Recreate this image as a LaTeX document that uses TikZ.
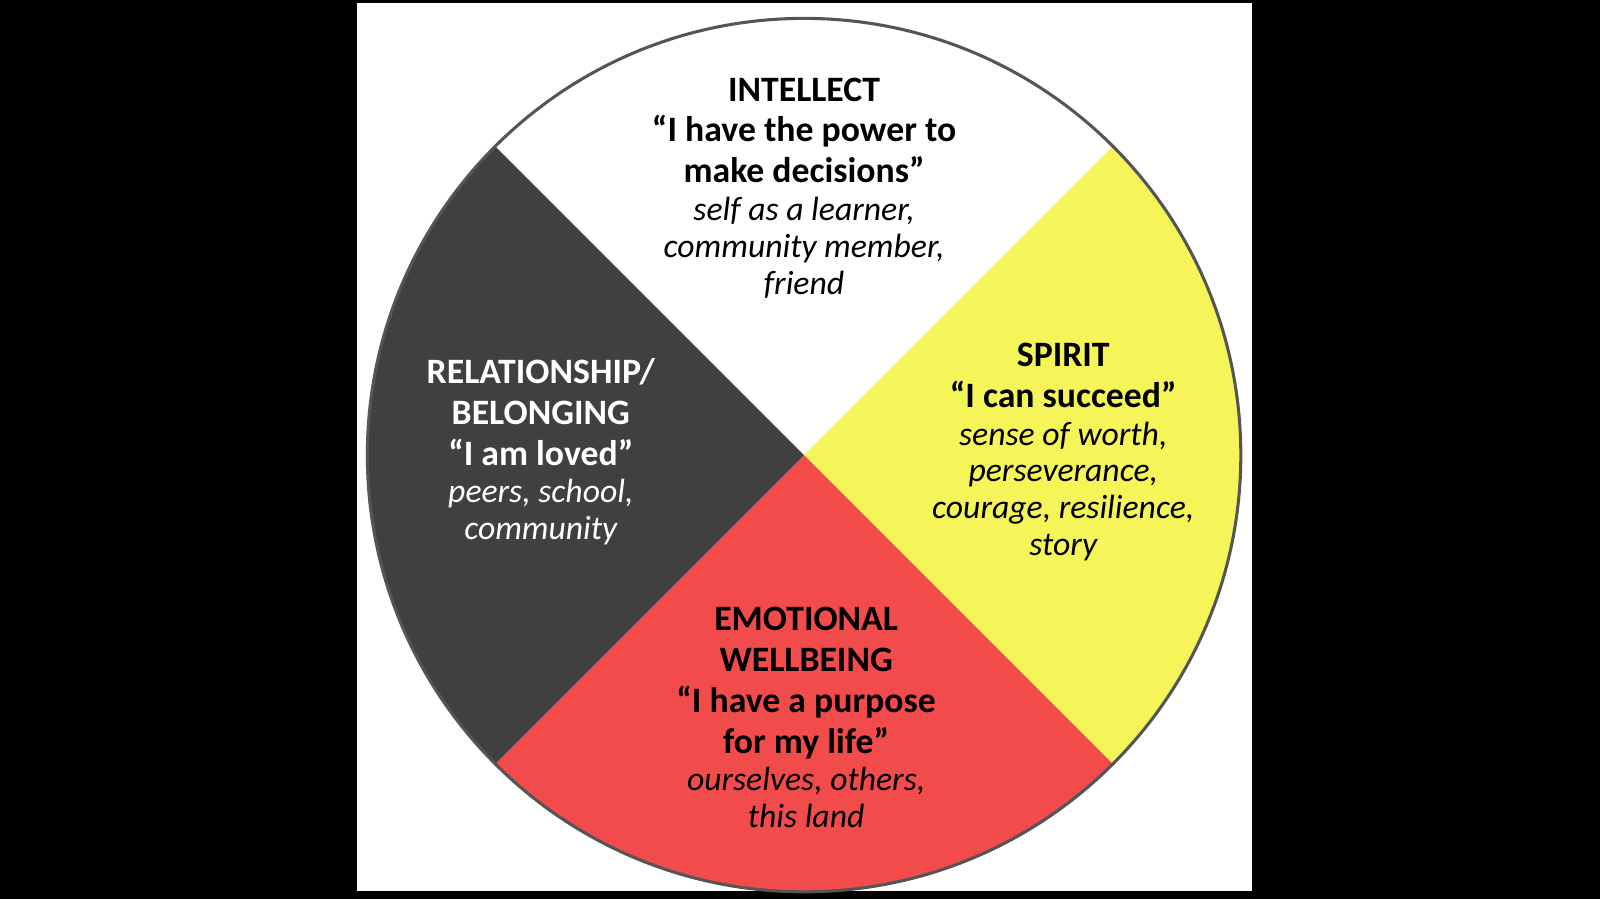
\documentclass[tikz,border=0pt]{standalone}
\usepackage{fontspec}
\setmainfont{Carlito}
\newcommand{\itl}[1]{{\itshape\mdseries\fontsize{33}{36}\selectfont #1}}
\begin{document}
\begin{tikzpicture}[x=1pt,y=-1pt,
 lab/.style={align=center,anchor=north,inner sep=0pt,font=\fontsize{35}{40}\selectfont\bfseries}]
\useasboundingbox (0,0) rectangle (1568,881);
\fill[black] (0,0) rectangle (1568,881);
\fill[white] (350,3) rectangle (1227,873);
\coordinate (c) at (788,446);
\def\R{428}
\fill[white] (c) -- ++(-135:\R) arc[start angle=-135,end angle=-45,radius=\R] -- cycle;
\fill[fill={rgb,255:red,245;green,245;blue,90}] (c) -- ++(-45:\R) arc[start angle=-45,end angle=45,radius=\R] -- cycle;
\fill[fill={rgb,255:red,242;green,75;blue,75}] (c) -- ++(45:\R) arc[start angle=45,end angle=135,radius=\R] -- cycle;
\fill[fill={rgb,255:red,64;green,64;blue,64}] (c) -- ++(135:\R) arc[start angle=135,end angle=225,radius=\R] -- cycle;
\draw[line width=3pt,draw={rgb,255:red,85;green,85;blue,85}] (c) circle[radius=\R];
\node[lab] (int) at (788,76) {INTELLECT\\``I have the power to\\make decisions''\\[-3pt]
 \itl{self as a learner,}\\[-4pt]\itl{community member,}\\[-4pt]\itl{friend}};
\node[lab] (spi) at (1042,336) {SPIRIT\\``I can succeed''\\[-3pt]
 \itl{sense of worth,}\\[-4pt]\itl{perseverance,}\\[-4pt]\itl{courage, resilience,}\\[-4pt]\itl{story}};
\node[lab,text=white] (rel) at (530,351) {RELATIONSHIP/\\BELONGING\\``I am loved''\\[-3pt]
 \itl{peers, school,}\\[-4pt]\itl{community}};
\node[lab] (emo) at (790,595) {EMOTIONAL\\WELLBEING\\``I have a purpose\\for my life''\\[-3pt]
 \itl{ourselves, others,}\\[-4pt]\itl{this land}};
\end{tikzpicture}
\end{document}
